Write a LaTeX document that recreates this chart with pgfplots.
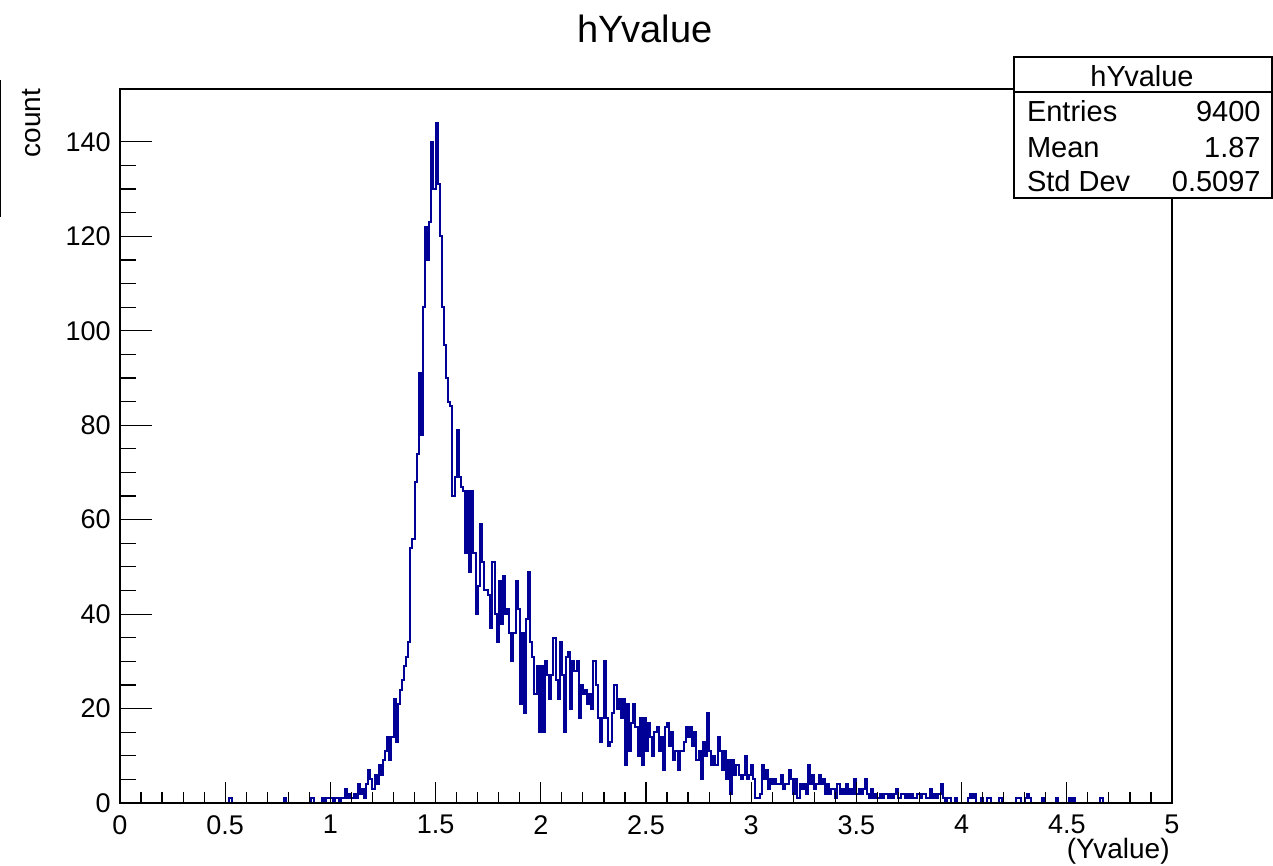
\documentclass[border=0pt]{standalone}
\usepackage{fontspec}
\setmainfont{Liberation Sans}
\usepackage{pgfplots}
\pgfplotsset{compat=1.18}
\definecolor{histblue}{RGB}{0,0,150}
\begin{document}
\begin{tikzpicture}
\useasboundingbox (0,0) rectangle (636.5pt,433pt);
\begin{axis}[
  at={(60pt,31.5pt)}, anchor=south west,
  scale only axis, width=526pt, height=357pt,
  xmin=0, xmax=5, ymin=0, ymax=151.2,
  axis on top,
  axis line style={line width=0.7pt},
  tick pos=left, tick align=inside,
  xtick={0,0.5,1,1.5,2,2.5,3,3.5,4,4.5,5},
  xticklabels={0,0.5,1,1.5,2,2.5,3,3.5,4,4.5,5},
  minor x tick num=4,
  ytick={0,20,40,60,80,100,120,140}, minor y tick num=3,
  xtick style={line width=0.6pt, black, /pgfplots/major tick length=10.5pt, /pgfplots/minor tick length=5.5pt},
  ytick style={line width=0.6pt, black, /pgfplots/major tick length=15.75pt, /pgfplots/minor tick length=8pt},
  /pgf/number format/assume math mode=true,
  tick label style={font=\fontsize{13.5}{16}\selectfont},
  xticklabel style={inner sep=0pt, yshift=-6pt},
  yticklabel style={inner sep=0pt, xshift=-4.5pt},
  every axis title shift=0pt,
  title={hYvalue},
  title style={at={(axis description cs:0.499,1.0658)}, anchor=base, font=\fontsize{19}{22}\selectfont, inner sep=0pt},
  xlabel={(Yvalue)},
  every axis x label/.style={at={(axis description cs:0.9981,-0.0784)}, anchor=base east, font=\fontsize{14}{16}\selectfont, inner sep=0pt},
  ylabel={count},
  every axis y label/.style={at={(axis description cs:-0.076,1.0008)}, rotate=90, anchor=base east, font=\fontsize{14}{16}\selectfont, inner sep=0pt},
]
\addplot[const plot mark left, histblue, line width=1pt, mark=none] coordinates {
(0,0)
(0.52,1) (0.53,0)
(0.78,1) (0.79,0)
(0.91,1) (0.92,0)
(0.96,1) (0.97,0) (0.98,1) (0.99,1)
(1.00,1) (1.01,0) (1.02,1) (1.03,1) (1.04,0) (1.05,1) (1.06,1) (1.07,3) (1.08,1) (1.09,2)
(1.10,1) (1.11,2) (1.12,1) (1.13,4) (1.14,2) (1.15,3) (1.16,1) (1.17,4) (1.18,7) (1.19,5)
(1.20,3) (1.21,6) (1.22,4) (1.23,8) (1.24,6) (1.25,9) (1.26,11) (1.27,14) (1.28,9) (1.29,14)
(1.30,22) (1.31,13) (1.32,21) (1.33,24) (1.34,26) (1.35,29) (1.36,31) (1.37,34) (1.38,54) (1.39,56)
(1.40,68) (1.41,74) (1.42,91) (1.43,78) (1.44,105) (1.45,122) (1.46,115) (1.47,123) (1.48,140) (1.49,130)
(1.50,144) (1.51,131) (1.52,120) (1.53,105) (1.54,97) (1.55,90) (1.56,85) (1.57,84) (1.58,65) (1.59,69)
(1.60,79) (1.61,69) (1.62,67) (1.63,66) (1.64,53) (1.65,66) (1.66,49) (1.67,66) (1.68,53) (1.69,40)
(1.70,46) (1.71,59) (1.72,51) (1.73,45) (1.74,45) (1.75,44) (1.76,37) (1.77,51) (1.78,40) (1.79,34)
(1.80,47) (1.81,38) (1.82,48) (1.83,40) (1.84,41) (1.85,36) (1.86,30) (1.87,36) (1.88,47) (1.89,41)
(1.90,21) (1.91,36) (1.92,19) (1.93,39) (1.94,49) (1.95,34) (1.96,31) (1.97,23) (1.98,29) (1.99,15)
(2.00,29) (2.01,15) (2.02,30) (2.03,27) (2.04,22) (2.05,27) (2.06,35) (2.07,26) (2.08,22) (2.09,34)
(2.10,27) (2.11,15) (2.12,31) (2.13,32) (2.14,20) (2.15,30) (2.16,28) (2.17,30) (2.18,18) (2.19,25)
(2.20,23) (2.21,24) (2.22,21) (2.23,23) (2.24,20) (2.25,30) (2.26,25) (2.27,18) (2.28,13) (2.29,18)
(2.30,30) (2.31,18) (2.32,12) (2.33,13) (2.34,19) (2.35,25) (2.36,20) (2.37,22) (2.38,18) (2.39,22)
(2.40,8) (2.41,21) (2.42,11) (2.43,17) (2.44,21) (2.45,16) (2.46,10) (2.47,18) (2.48,8) (2.49,18)
(2.50,11) (2.51,17) (2.52,14) (2.53,10) (2.54,15) (2.55,16) (2.56,11) (2.57,14) (2.58,7) (2.59,16)
(2.60,17) (2.61,12) (2.62,15) (2.63,9) (2.64,11) (2.65,7) (2.66,11) (2.67,11) (2.68,13) (2.69,16)
(2.70,14) (2.71,16) (2.72,12) (2.73,15) (2.74,9) (2.75,11) (2.76,5) (2.77,13) (2.78,10) (2.79,19)
(2.80,11) (2.81,8) (2.82,10) (2.83,8) (2.84,14) (2.85,11) (2.86,7) (2.87,11) (2.88,5) (2.89,9)
(2.90,2) (2.91,9) (2.92,6) (2.93,8) (2.94,6) (2.95,5) (2.96,6) (2.97,10) (2.98,5) (2.99,6)
(3.00,8) (3.01,5) (3.02,1) (3.03,1) (3.04,2) (3.05,8) (3.06,5) (3.07,7) (3.08,3) (3.09,5)
(3.10,4) (3.11,5) (3.12,4) (3.13,4) (3.14,6) (3.15,3) (3.16,4) (3.17,4) (3.18,7) (3.19,5)
(3.20,2) (3.21,5) (3.22,1) (3.23,4) (3.24,3) (3.25,4) (3.26,2) (3.27,8) (3.28,4) (3.29,6)
(3.30,3) (3.31,4) (3.32,6) (3.33,4) (3.34,5) (3.35,2) (3.36,4) (3.37,2) (3.38,3) (3.39,3)
(3.40,1) (3.41,4) (3.42,2) (3.43,3) (3.44,2) (3.45,4) (3.46,2) (3.47,3) (3.48,2) (3.49,5)
(3.50,2) (3.51,3) (3.52,2) (3.53,3) (3.54,5) (3.55,2) (3.56,1) (3.57,3) (3.58,1) (3.59,2)
(3.60,1) (3.61,2) (3.62,1) (3.63,2) (3.64,2) (3.65,1) (3.66,2) (3.67,1) (3.68,2) (3.69,3)
(3.70,1) (3.71,2) (3.72,2) (3.73,1) (3.74,2) (3.75,1) (3.76,2) (3.77,1) (3.78,1) (3.79,2)
(3.80,1) (3.81,2) (3.82,2) (3.83,1) (3.84,1) (3.85,3) (3.86,1) (3.87,2) (3.88,1) (3.89,2)
(3.90,4) (3.91,1) (3.92,0) (3.93,1) (3.94,1) (3.95,0) (3.97,1) (3.98,0)
(4.03,1) (4.04,2) (4.05,1) (4.06,2) (4.07,0) (4.09,1) (4.10,0) (4.12,1) (4.13,1) (4.14,0)
(4.18,1) (4.19,0) (4.26,1) (4.27,1) (4.28,0) (4.30,1) (4.31,2) (4.32,1) (4.33,0)
(4.38,1) (4.39,0) (4.45,1) (4.46,0) (4.51,1) (4.52,0) (4.53,1) (4.54,0) (4.66,1) (4.67,0) (5,0)
};
\end{axis}
% statistics box
\draw[line width=0.7pt, fill=white] (507pt,334pt) rectangle (636pt,404.5pt);
\draw[line width=0.7pt] (507pt,387pt) -- (636pt,387pt);
\begin{scope}[every node/.style={font=\fontsize{14.5}{17}\selectfont, inner sep=0pt}]
\node[anchor=base] at (571pt,389.5pt) {hYvalue};
\node[anchor=base west] at (513.3pt,372pt) {Entries};
\node[anchor=base east] at (630.5pt,372pt) {9400};
\node[anchor=base west] at (513.3pt,354pt) {Mean};
\node[anchor=base east] at (630.5pt,354pt) {1.87};
\node[anchor=base west] at (513.3pt,337pt) {Std Dev};
\node[anchor=base east] at (630.5pt,337pt) {0.5097};
\end{scope}
% stray frame edge at left
\draw[line width=0.7pt] (0.4pt,393pt) -- (0.4pt,324.5pt);
\end{tikzpicture}
\end{document}
